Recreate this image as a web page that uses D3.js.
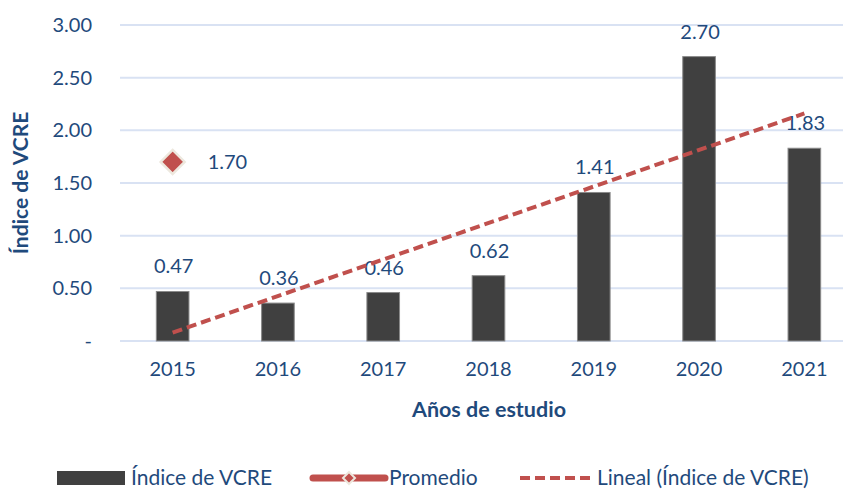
<!DOCTYPE html>
<html>
<head>
<meta charset="utf-8">
<script src="https://cdn.jsdelivr.net/npm/d3@7"></script>
<style>
  html, body { margin: 0; padding: 0; background: #fff; }
  svg { display: block; font-family: Lato, "Open Sans", sans-serif; }
</style>
</head>
<body>
<svg id="chart" width="843" height="489"></svg>
<script>
// ---- Data ----
const years = ["2015", "2016", "2017", "2018", "2019", "2020", "2021"];
const vcre = [0.47, 0.36, 0.46, 0.62, 1.41, 2.70, 1.83];
const promedioYears = ["2015"];
const promedio = [1.70];
const linealYears = ["2015", "2021"];
const lineal = [0.08, 2.16];
const yTicks = [0, 0.5, 1.0, 1.5, 2.0, 2.5, 3.0];
const legendLabels = ["Índice de VCRE", "Promedio", "Lineal (Índice de VCRE)"];

// ---- Styles ----
const textColor = "#1F4A7C";
const barColor = "#404040";
const redColor = "#C0504D";
const gridColor = "#D9E2F3";

const svg = d3.select("#chart");

const x = d3.scaleBand().domain(years).range([120, 857]).paddingInner(0.69).paddingOuter(0.345);
const y = d3.scaleLinear().domain([0, 3]).range([341, 25]);
const cx = d => x(d) + x.bandwidth() / 2;

// Gridlines
svg.append("g").selectAll("line").data(yTicks).join("line")
  .attr("x1", 120).attr("x2", 857)
  .attr("y1", d => y(d)).attr("y2", d => y(d))
  .attr("stroke", gridColor).attr("stroke-width", 2);

// Y axis tick labels
const yAxis = d3.axisLeft(y).tickValues(yTicks)
  .tickFormat(d => d === 0 ? "-" : d3.format(".2f")(d)).tickSize(0).tickPadding(0);
const gy = svg.append("g").attr("transform", "translate(92,0)").call(yAxis);
gy.select(".domain").remove();
gy.selectAll("text").attr("fill", textColor).style("font-size", "20px")
  .style("font-family", "Lato, 'Open Sans', sans-serif");

// X axis tick labels
const xAxis = d3.axisBottom(x).tickSize(0).tickPadding(0);
const gx = svg.append("g").attr("transform", "translate(0,362)").call(xAxis);
gx.select(".domain").remove();
gx.selectAll("text").attr("fill", textColor).style("font-size", "20px")
  .style("font-family", "Lato, 'Open Sans', sans-serif");

// Bars
svg.append("g").selectAll("rect").data(vcre).join("rect")
  .attr("x", (d, i) => x(years[i]))
  .attr("width", x.bandwidth())
  .attr("y", d => y(d))
  .attr("height", d => y(0) - y(d))
  .attr("fill", barColor)
  .attr("stroke", "#8a8a8a").attr("stroke-width", 1);

// Bar labels
svg.append("g").selectAll("text").data(vcre).join("text")
  .attr("x", (d, i) => cx(years[i]) + 1)
  .attr("y", d => y(d) - 25)
  .attr("dy", "0.35em")
  .attr("text-anchor", "middle")
  .attr("fill", textColor).style("font-size", "20px")
  .text(d => d3.format(".2f")(d));

// Trend line (Lineal)
const line = d3.line().x((d, i) => cx(linealYears[i])).y(d => y(d));
svg.append("path").datum(lineal)
  .attr("d", line)
  .attr("fill", "none").attr("stroke", redColor)
  .attr("stroke-width", 4).attr("stroke-dasharray", "10,5");

// Promedio marker
const diamond = (px, py, r) => `M${px},${py - r}L${px + r},${py}L${px},${py + r}L${px - r},${py}Z`;
svg.append("g").selectAll("path").data(promedio).join("path")
  .attr("d", (d, i) => diamond(cx(promedioYears[i]), y(d), 12))
  .attr("fill", redColor).attr("stroke", "#EDE8DE").attr("stroke-width", 2.5);
svg.append("g").selectAll("text").data(promedio).join("text")
  .attr("x", (d, i) => cx(promedioYears[i]) + 35)
  .attr("y", d => y(d))
  .attr("dy", "0.35em")
  .attr("fill", textColor).style("font-size", "20px")
  .text(d => d3.format(".2f")(d));

// Axis titles
svg.append("text")
  .attr("transform", "translate(21,183) rotate(-90)")
  .attr("text-anchor", "middle").attr("dy", "0.35em")
  .attr("fill", textColor).style("font-size", "21px").style("font-weight", "bold")
  .text("Índice de VCRE");
svg.append("text")
  .attr("x", 489).attr("y", 409).attr("dy", "0.35em")
  .attr("text-anchor", "middle")
  .attr("fill", textColor).style("font-size", "21.5px").style("font-weight", "bold")
  .text("Años de estudio");

// Legend
const lg = svg.append("g");
const ly = 478;
lg.append("rect").attr("x", 57).attr("y", ly - 7).attr("width", 68).attr("height", 14).attr("fill", barColor);
lg.append("text").attr("x", 131).attr("y", ly).attr("dy", "0.35em")
  .attr("fill", textColor).style("font-size", "21px").text(legendLabels[0]);

lg.append("line").attr("x1", 313).attr("x2", 385).attr("y1", ly).attr("y2", ly)
  .attr("stroke", redColor).attr("stroke-width", 7).attr("stroke-linecap", "round");
lg.append("path").attr("d", diamond(349, ly, 6))
  .attr("fill", redColor).attr("stroke", "#EDE8DE").attr("stroke-width", 2);
lg.append("text").attr("x", 389).attr("y", ly).attr("dy", "0.35em")
  .attr("fill", textColor).style("font-size", "21px").text(legendLabels[1]);

lg.append("line").attr("x1", 520).attr("x2", 590).attr("y1", ly).attr("y2", ly)
  .attr("stroke", redColor).attr("stroke-width", 4).attr("stroke-dasharray", "10,5");
lg.append("text").attr("x", 597).attr("y", ly).attr("dy", "0.35em")
  .attr("fill", textColor).style("font-size", "21px").text(legendLabels[2]);
</script>
</body>
</html>
